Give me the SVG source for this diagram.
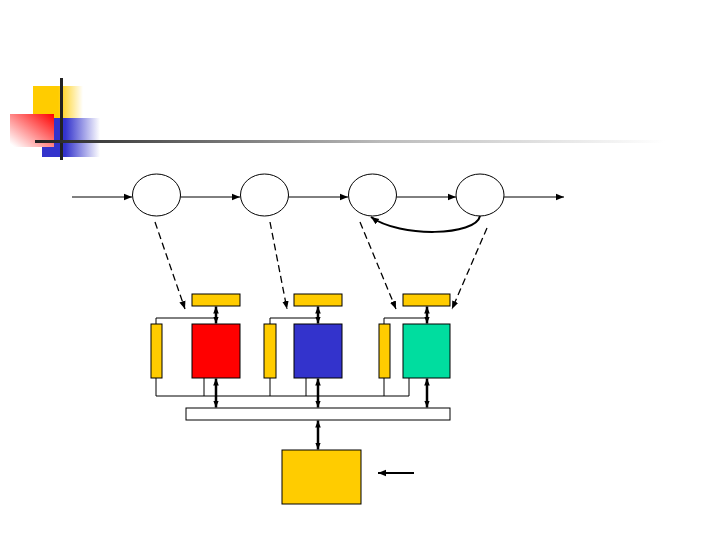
<svg xmlns="http://www.w3.org/2000/svg" width="720" height="540" viewBox="0 0 720 540">
<defs>
<linearGradient id="gY" x1="0" y1="0" x2="1" y2="0"><stop offset="0.5" stop-color="#ffcc00"/><stop offset="1" stop-color="#ffcc00" stop-opacity="0"/></linearGradient>
<linearGradient id="gB" x1="0" y1="0" x2="1" y2="0"><stop offset="0.4" stop-color="#3333cc"/><stop offset="1" stop-color="#3333cc" stop-opacity="0"/></linearGradient>
<linearGradient id="gR" x1="1" y1="0" x2="0" y2="1"><stop offset="0" stop-color="#ff0000"/><stop offset="0.95" stop-color="#ffffff"/></linearGradient>
<linearGradient id="gL" x1="0" y1="0" x2="1" y2="0"><stop offset="0" stop-color="#222"/><stop offset="0.55" stop-color="#bbb"/><stop offset="1" stop-color="#fff"/></linearGradient>
<marker id="ah" viewBox="0 0 10 10" refX="10" refY="5" markerWidth="8" markerHeight="8" markerUnits="userSpaceOnUse" orient="auto"><path d="M0,1 L10,5 L0,9 z" fill="#000"/></marker>
<marker id="ah2" viewBox="0 0 10 10" refX="10" refY="5" markerWidth="7" markerHeight="7" markerUnits="userSpaceOnUse" orient="auto-start-reverse"><path d="M0,1 L10,5 L0,9 z" fill="#000"/></marker>
<style>
.n{fill:#fff;stroke:#000;stroke-width:1}
.y{fill:#ffcc00;stroke:#000;stroke-width:1}
.c{fill:none;stroke:#000;stroke-width:1}
.d{fill:none;stroke:#000;stroke-width:1.3;stroke-dasharray:7,4}
.b{fill:none;stroke:#000;stroke-width:2.5;marker-start:url(#ah2);marker-end:url(#ah2)}
</style>
</defs>
<g id="logo">
<rect x="33" y="86" width="50" height="32" fill="url(#gY)"/>
<rect x="42" y="118" width="58" height="39" fill="url(#gB)"/>
<rect x="10" y="114" width="44" height="33" fill="url(#gR)"/>
<rect x="60" y="78" width="3" height="82" fill="#222"/>
<rect x="35" y="140" width="630" height="3" fill="url(#gL)"/>
</g>
<g id="s1"><ellipse class="n" cx="156.5" cy="195" rx="24" ry="21"/></g>
<g id="s2"><ellipse class="n" cx="264.5" cy="195" rx="24" ry="21"/></g>
<g id="s3"><ellipse class="n" cx="372.5" cy="195" rx="24" ry="21"/></g>
<g id="s4"><ellipse class="n" cx="480" cy="195" rx="24" ry="21"/></g>
<g id="top1"><rect class="y" x="192" y="294" width="48" height="12"/></g>
<g id="top2"><rect class="y" x="294" y="294" width="48" height="12"/></g>
<g id="top3"><rect class="y" x="403" y="294" width="47" height="12"/></g>
<g id="red"><rect x="192" y="324" width="48" height="54" fill="#ff0000" stroke="#000"/></g>
<g id="blue"><rect x="294" y="324" width="48" height="54" fill="#3333cc" stroke="#000"/></g>
<g id="green"><rect x="403" y="324" width="47" height="54" fill="#00dd9f" stroke="#000"/></g>
<g id="side1"><rect class="y" x="151" y="324" width="11" height="54"/></g>
<g id="side2"><rect class="y" x="264" y="324" width="12" height="54"/></g>
<g id="side3"><rect class="y" x="379" y="324" width="11" height="54"/></g>
<g id="bus"><rect class="n" x="186" y="408" width="264" height="12"/></g>
<g id="ctrl"><rect class="y" x="282" y="450" width="79" height="54"/></g>
<g id="connectors">
<line class="c" x1="72" y1="197" x2="132" y2="197" marker-end="url(#ah)"/>
<line class="c" x1="180.5" y1="197" x2="240" y2="197" marker-end="url(#ah)"/>
<line class="c" x1="288.5" y1="197" x2="348" y2="197" marker-end="url(#ah)"/>
<line class="c" x1="396.5" y1="197" x2="456" y2="197" marker-end="url(#ah)"/>
<line class="c" x1="504" y1="197" x2="564" y2="197" marker-end="url(#ah)"/>
<path d="M480,216 C476,236 400,238 371,217" fill="none" stroke="#000" stroke-width="2" marker-end="url(#ah)"/>
<line class="d" x1="155" y1="222" x2="185" y2="309" marker-end="url(#ah)"/>
<line class="d" x1="270" y1="222" x2="287" y2="309" marker-end="url(#ah)"/>
<line class="d" x1="360" y1="222" x2="396" y2="309" marker-end="url(#ah)"/>
<line class="d" x1="487" y1="228" x2="452" y2="309" marker-end="url(#ah)"/>
<polyline class="c" points="156,324 156,318 216,318"/>
<polyline class="c" points="270,324 270,318 318,318"/>
<polyline class="c" points="384,324 384,318 427,318"/>
<polyline class="c" points="156,378 156,396 409,396"/>
<line class="c" x1="204" y1="378" x2="204" y2="396"/>
<line class="c" x1="270" y1="378" x2="270" y2="396"/>
<line class="c" x1="306" y1="378" x2="306" y2="396"/>
<line class="c" x1="384" y1="378" x2="384" y2="396"/>
<line class="c" x1="409" y1="378" x2="409" y2="396"/>
<line class="b" x1="216" y1="306.5" x2="216" y2="323.5"/>
<line class="b" x1="318" y1="306.5" x2="318" y2="323.5"/>
<line class="b" x1="427" y1="306.5" x2="427" y2="323.5"/>
<line class="b" x1="216" y1="378.5" x2="216" y2="407.5"/>
<line class="b" x1="318" y1="378.5" x2="318" y2="407.5"/>
<line class="b" x1="427" y1="378.5" x2="427" y2="407.5"/>
<line class="b" x1="318" y1="420.5" x2="318" y2="449.5"/>
<line x1="414" y1="473" x2="378" y2="473" stroke="#000" stroke-width="2" marker-end="url(#ah)"/>
</g>
</svg>
